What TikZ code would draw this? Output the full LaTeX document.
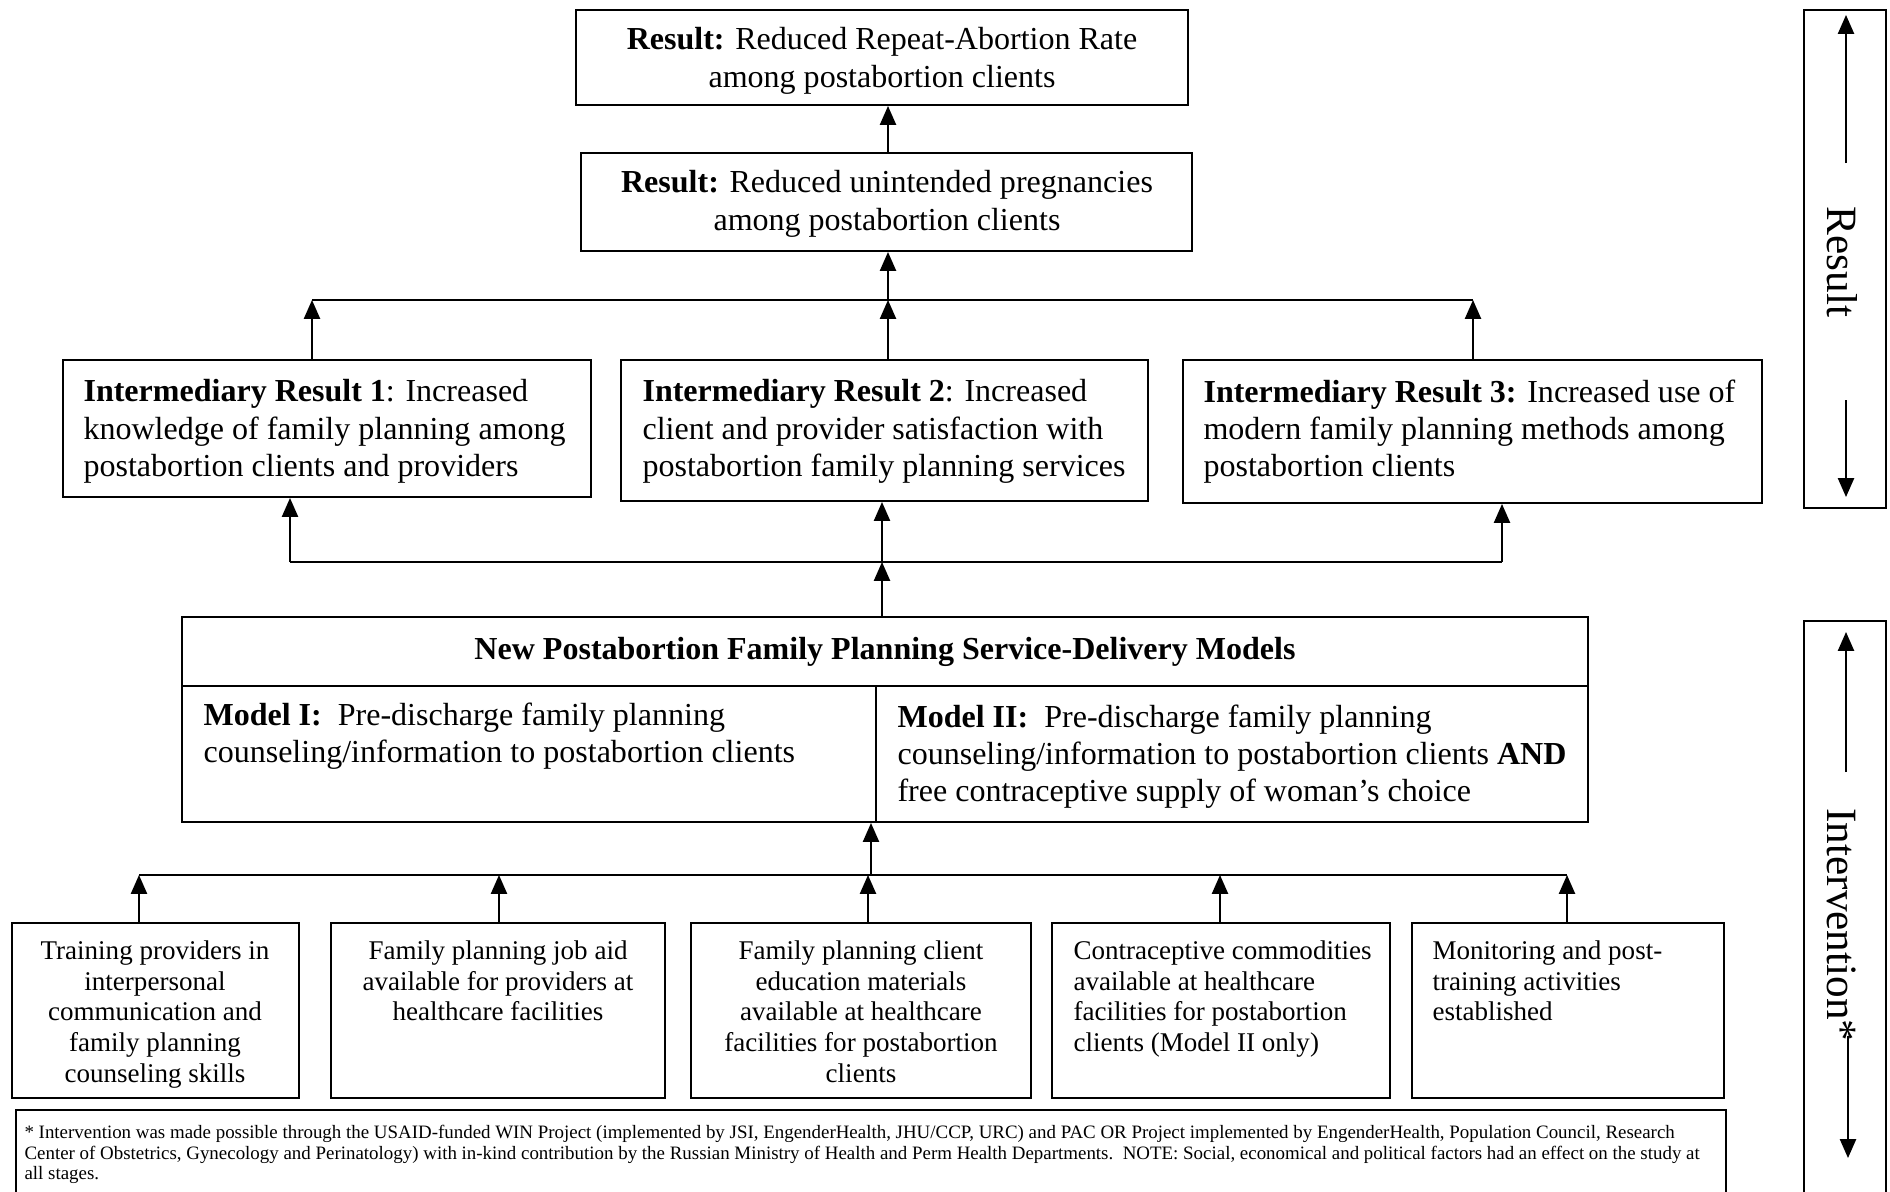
\documentclass[tikz,border=0pt]{standalone}
\usepackage{fontspec}
\setmainfont{Liberation Serif}
\usetikzlibrary{arrows.meta,fit}
\begin{document}
\begin{tikzpicture}[x=0.37pt,y=-0.37pt,
  box/.style={draw, line width=0.75pt, inner sep=0pt},
  big/.style={inner sep=0pt, font=\fontsize{11.85}{13.8}\selectfont},
  small/.style={inner sep=0pt, font=\fontsize{10}{11.4}\selectfont},
  side/.style={inner sep=0pt, font=\fontsize{16}{18}\selectfont, rotate=-90},
  conn/.style={line width=0.6pt},
  arr/.style={line width=0.6pt, -{Triangle[length=7pt,width=6pt]}},
]
\useasboundingbox (0,0) rectangle (1890,1191);

% Results
\node[box, fit={(576,10) (1188,105)}] (r1) {};
\node[box, fit={(581,153) (1192,251)}] (r2) {};
\node[big, align=center, anchor=north] (r1t) at (882,27)
  {\textbf{Result:} Reduced Repeat-Abortion Rate\\among postabortion clients};
\node[big, align=center, anchor=north] (r2t) at (887,170)
  {\textbf{Result:} Reduced unintended pregnancies\\among postabortion clients};

% Intermediary results
\node[box, fit={(63,360) (591,497)}] (ir1) {};
\node[box, fit={(621,360) (1148,501)}] (ir2) {};
\node[box, fit={(1183,360) (1762,503)}] (ir3) {};
\node[big, align=left, anchor=north west] (ir1t) at (83,379)
  {\textbf{Intermediary Result 1}: Increased\\knowledge of family planning among\\postabortion clients and providers};
\node[big, align=left, anchor=north west] (ir2t) at (642,379)
  {\textbf{Intermediary Result 2}: Increased\\client and provider satisfaction with\\postabortion family planning services};
\node[big, align=left, anchor=north west] (ir3t) at (1203,379)
  {\textbf{Intermediary Result 3:} Increased use of\\modern family planning methods among\\postabortion clients};

% Models
\node[box, fit={(182,617) (1588,686)}] (hdr) {};
\node[big, font=\fontsize{11.85}{13.8}\selectfont\bfseries] (hdrt) at (hdr.center)
  {New Postabortion Family Planning Service-Delivery Models};
\node[box, fit={(182,686) (876,822)}] (m1) {};
\node[box, fit={(876,686) (1588,822)}] (m2) {};
\node[big, align=left, anchor=north west] (m1t) at (203,702)
  {\textbf{Model I:}\ \ Pre-discharge family planning\\counseling/information to postabortion clients};
\node[big, align=left, anchor=north west] (m2t) at (897,704)
  {\textbf{Model II:}\ \ Pre-discharge family planning\\counseling/information to postabortion clients \textbf{AND}\\free contraceptive supply of woman’s choice};

% Bottom intervention boxes
\node[box, fit={(12,923) (299,1098)}] (b1) {};
\node[box, fit={(331,923) (665,1098)}] (b2) {};
\node[box, fit={(691,923) (1031,1098)}] (b3) {};
\node[box, fit={(1052,923) (1390,1098)}] (b4) {};
\node[box, fit={(1412,923) (1724,1098)}] (b5) {};
\node[small, align=center, anchor=north] (b1t) at (155,940)
  {Training providers in\\interpersonal\\communication and\\family planning\\counseling skills};
\node[small, align=center, anchor=north] (b2t) at (498,940)
  {Family planning job aid\\available for providers at\\healthcare facilities};
\node[small, align=center, anchor=north] (b3t) at (861,940)
  {Family planning client\\education materials\\available at healthcare\\facilities for postabortion\\clients};
\node[small, align=left, anchor=north west] (b4t) at (1073,940)
  {Contraceptive commodities\\available at healthcare\\facilities for postabortion\\clients (Model II only)};
\node[small, align=left, anchor=north west] (b5t) at (1432,940)
  {Monitoring and post-\\training activities\\established};

% Footnote
\node[box, fit={(16,1110) (1726,1230)}] (fn) {};
\node[inner sep=0pt, font=\fontsize{7}{7.6}\selectfont, align=left, anchor=north west] (fnt) at (24,1125)
  {* Intervention was made possible through the USAID-funded WIN Project (implemented by JSI, EngenderHealth, JHU/CCP, URC) and PAC OR Project implemented by EngenderHealth, Population Council, Research\\
   Center of Obstetrics, Gynecology and Perinatology) with in-kind contribution by the Russian Ministry of Health and Perm Health Departments.\ \ NOTE: Social, economical and political factors had an effect on the study at\\
   all stages.};

% Side boxes
\node[box, fit={(1804,10) (1886,508)}] (sres) {};
\node[box, fit={(1804,621) (1886,1240)}] (sint) {};
\node[side] (sresT) at (1842,262) {Result};
\node[side] (sintT) at (1842,925) {Intervention*};
\coordinate (sresA1) at (1846,163);
\coordinate (sresA2) at (1846,15);
\coordinate (sresB1) at (1846,400);
\coordinate (sresB2) at (1846,497);
\coordinate (sintA1) at (1846,772);
\coordinate (sintA2) at (1846,632);
\coordinate (sintB1) at (1848,1036);
\coordinate (sintB2) at (1848,1158);
\draw[arr] (sresA1) -- (sresA2);
\draw[arr] (sresB1) -- (sresB2);
\draw[arr] (sintA1) -- (sintA2);
\draw[arr] (sintB1) -- (sintB2);

% Connectors: top
\draw[arr] (r2.north -| 888,0) -- (r1.south -| 888,0);
\coordinate (busA) at (888,300);
\coordinate (busAl) at (312,300);
\coordinate (busAr) at (1473,300);
\draw[conn] (busAl) -- (busAr);
\draw[arr] (busA) -- (r2.south -| busA);
\draw[arr] (ir1.north -| busAl) -- (busAl);
\draw[arr] (ir2.north -| busA) -- (busA);
\draw[arr] (ir3.north -| busAr) -- (busAr);

% Connectors: middle
\coordinate (busB) at (882,562);
\coordinate (busBl) at (290,562);
\coordinate (busBr) at (1502,562);
\draw[conn] (busBl) -- (busBr);
\draw[arr] (busBl) -- (ir1.south -| busBl);
\draw[arr] (busB) -- (ir2.south -| busB);
\draw[arr] (busBr) -- (ir3.south -| busBr);
\draw[arr] (hdr.north -| busB) -- (busB);

% Connectors: bottom
\coordinate (busC) at (871,875);
\coordinate (busC1) at (139,875);
\coordinate (busC2) at (499,875);
\coordinate (busC3) at (868,875);
\coordinate (busC4) at (1220,875);
\coordinate (busC5) at (1567,875);
\draw[conn] (busC1) -- (busC5);
\draw[arr] (busC) -- (m1.south -| busC);
\draw[arr] (b1.north -| busC1) -- (busC1);
\draw[arr] (b2.north -| busC2) -- (busC2);
\draw[arr] (b3.north -| busC3) -- (busC3);
\draw[arr] (b4.north -| busC4) -- (busC4);
\draw[arr] (b5.north -| busC5) -- (busC5);
\end{tikzpicture}
\end{document}
